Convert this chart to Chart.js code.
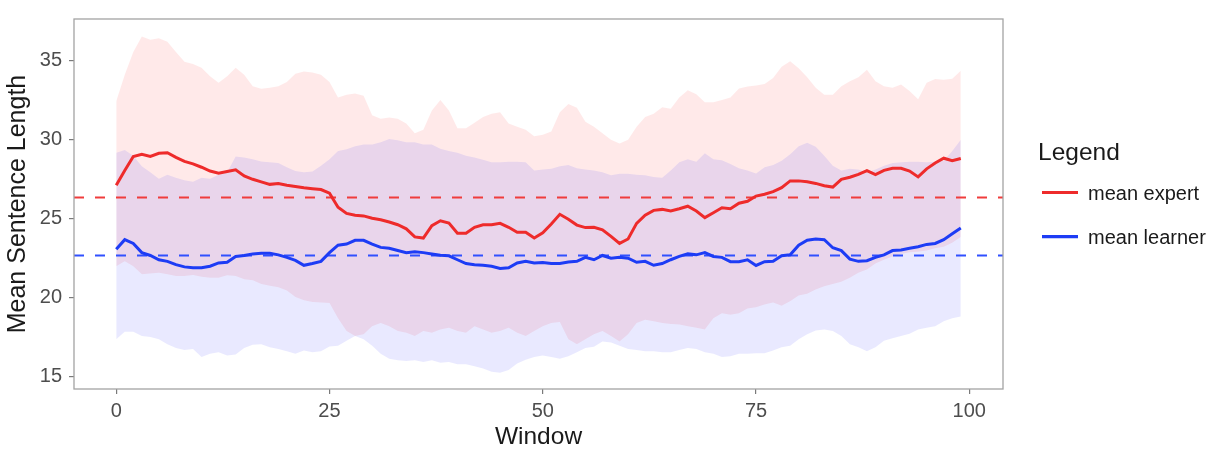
<!DOCTYPE html>
<html>
<head>
<meta charset="utf-8">
<script src="https://cdn.jsdelivr.net/npm/chart.js@4/dist/chart.umd.min.js"></script>
<style>
  html, body { margin: 0; padding: 0; background: #ffffff; }
  #wrap { position: relative; width: 1217px; height: 452px; }
</style>
</head>
<body>
<div id="wrap"><canvas id="c"></canvas></div>
<script>
// ---------- data ----------
const windows = [0,1,2,3,4,5,6,7,8,9,10,11,12,13,14,15,16,17,18,19,20,21,22,23,24,25,26,27,28,29,30,31,32,33,34,35,36,37,38,39,40,41,42,43,44,45,46,47,48,49,50,51,52,53,54,55,56,57,58,59,60,61,62,63,64,65,66,67,68,69,70,71,72,73,74,75,76,77,78,79,80,81,82,83,84,85,86,87,88,89,90,91,92,93,94,95,96,97,98,99];

const expertMean = [27.11,28.04,28.92,29.06,28.92,29.12,29.16,28.86,28.61,28.45,28.24,28.0,27.87,27.97,28.08,27.69,27.48,27.32,27.16,27.22,27.11,27.03,26.95,26.89,26.83,26.6,25.72,25.33,25.21,25.17,25.02,24.92,24.78,24.61,24.35,23.84,23.77,24.55,24.86,24.72,24.08,24.08,24.45,24.61,24.61,24.7,24.45,24.14,24.14,23.77,24.1,24.66,25.27,24.96,24.59,24.43,24.45,24.29,23.88,23.43,23.71,24.7,25.21,25.52,25.58,25.48,25.62,25.78,25.48,25.06,25.37,25.68,25.62,25.97,26.09,26.42,26.54,26.7,26.95,27.38,27.38,27.32,27.22,27.07,26.99,27.48,27.61,27.79,28.02,27.77,28.04,28.18,28.18,28.0,27.63,28.14,28.51,28.81,28.65,28.79];

const expertUpper = [32.4,34.08,35.51,36.5,36.29,36.38,36.17,35.51,34.9,34.76,34.53,33.98,33.57,33.98,34.53,34.08,33.36,33.2,33.26,33.36,33.63,34.14,34.28,34.22,34.08,33.62,32.65,32.81,32.89,32.75,31.52,31.31,31.38,31.31,31.01,30.39,30.6,31.83,32.48,31.83,30.7,30.7,31.05,31.42,31.62,31.72,31.01,30.8,30.6,30.19,30.3,30.5,31.72,32.24,31.99,31.11,30.8,30.39,29.98,29.74,29.98,30.8,31.42,31.62,32.03,31.93,32.65,33.1,32.85,32.34,32.34,32.48,32.65,33.22,33.34,33.4,33.5,33.87,34.59,34.94,34.49,33.92,33.26,32.81,32.81,33.36,33.67,33.92,34.39,33.67,33.36,33.26,33.47,33.06,32.54,33.57,33.81,33.77,33.83,34.33];

const expertLower = [21.99,22.3,21.99,21.48,21.54,21.58,21.48,21.38,21.38,21.44,21.32,21.27,21.27,21.42,21.38,21.17,21.11,20.87,20.76,20.66,20.46,20.05,19.84,19.74,19.7,19.67,18.71,17.9,17.59,17.69,18.2,18.41,18.2,17.9,17.79,17.59,17.9,17.79,18.0,18.1,17.9,17.79,18.2,18.0,17.79,17.9,18.1,17.79,17.59,17.9,18.2,18.41,18.47,17.38,17.07,17.38,17.69,17.9,17.59,17.24,17.69,18.41,18.61,18.51,18.41,18.35,18.31,18.2,18.1,18.0,18.71,19.02,18.92,19.02,19.33,19.4,19.58,19.7,19.5,19.78,20.15,20.25,20.52,20.72,20.87,21.01,21.27,21.58,21.79,22.16,22.4,22.61,22.77,22.87,22.91,22.98,23.12,23.22,23.47,23.84];

const learnerMean = [23.06,23.67,23.43,22.85,22.67,22.4,22.3,22.09,21.95,21.89,21.89,21.99,22.2,22.24,22.61,22.67,22.77,22.81,22.81,22.71,22.55,22.36,22.05,22.16,22.3,22.85,23.32,23.39,23.63,23.63,23.39,23.18,23.12,22.98,22.85,22.91,22.85,22.77,22.69,22.65,22.4,22.16,22.09,22.05,21.99,21.85,21.89,22.2,22.3,22.2,22.22,22.16,22.16,22.26,22.3,22.55,22.4,22.67,22.5,22.55,22.5,22.24,22.3,22.05,22.16,22.4,22.61,22.77,22.71,22.85,22.61,22.55,22.28,22.28,22.4,22.04,22.28,22.3,22.65,22.71,23.32,23.63,23.71,23.67,23.16,22.98,22.44,22.3,22.34,22.55,22.71,22.98,23.02,23.12,23.22,23.37,23.43,23.67,24.04,24.41];

const learnerUpper = [29.16,29.33,28.96,28.3,27.93,27.52,27.77,27.57,27.42,27.32,27.57,27.52,27.77,27.93,28.92,28.86,28.75,28.61,28.55,28.51,28.24,28.0,27.93,27.97,28.34,28.75,29.27,29.37,29.57,29.68,29.68,29.82,30.02,29.94,29.82,29.82,29.68,29.68,29.41,29.27,29.16,28.96,28.86,28.71,28.55,28.55,28.59,28.59,28.55,28.04,28.1,28.14,28.3,28.38,28.18,28.1,28.04,27.93,27.73,27.83,27.83,27.77,27.73,27.63,27.57,28.04,28.55,28.75,28.59,29.12,28.75,28.69,28.45,28.18,28.04,27.85,28.24,28.38,28.65,29.06,29.57,29.78,29.53,28.96,28.34,28.04,28.14,28.1,27.93,28.1,28.34,28.51,28.55,28.59,28.59,28.55,28.59,28.65,29.27,29.98];

const learnerLower = [17.38,17.85,17.85,17.59,17.53,17.38,17.07,16.83,16.71,16.77,16.26,16.46,16.56,16.36,16.42,16.83,17.03,17.07,16.87,16.77,16.63,16.46,16.67,16.56,16.63,16.92,16.97,17.28,17.59,17.38,16.97,16.46,16.15,16.05,16.01,16.05,15.95,16.05,15.89,15.95,15.8,15.8,15.68,15.54,15.33,15.27,15.44,15.85,16.09,16.26,16.36,16.26,16.15,16.3,16.56,16.83,16.91,17.24,17.18,16.97,16.77,16.71,16.63,16.63,16.56,16.56,16.71,16.83,16.77,16.56,16.46,16.26,16.3,16.46,16.46,16.5,16.5,16.67,16.87,16.97,17.38,17.69,17.94,18.0,17.9,17.59,17.07,16.87,16.63,16.87,17.28,17.44,17.59,17.73,18.0,18.1,18.2,18.51,18.71,18.82];

const expertOverall = 26.33;
const learnerOverall = 22.67;

const xTicks = [0, 25, 50, 75, 100];
const yTicks = [15, 20, 25, 30, 35];
const legendLabels = ['mean expert', 'mean learner'];

// ---------- styling ----------
const X_MIN = -4.95, X_MAX = 103.95;
const Y_MIN = 14.24, Y_MAX = 37.6;
const RED = '#ee2b2b';
const BLUE = '#1d3cf5';
const RED_FILL = 'rgba(255,0,0,0.085)';
const BLUE_FILL = 'rgba(0,0,255,0.085)';
const FONT = "'Liberation Sans', Arial, Helvetica, sans-serif";

const pts = ys => windows.map((w, i) => ({ x: w, y: ys[i] }));
const hline = v => [{ x: X_MIN, y: v }, { x: X_MAX, y: v }];

const frame = {
  id: 'frame',
  afterDatasetsDraw(chart) {
    const { ctx, chartArea: a } = chart;
    ctx.save();
    ctx.strokeStyle = '#a3a3a3';
    ctx.lineWidth = 1.3;
    ctx.strokeRect(a.left, a.top, a.right - a.left, a.bottom - a.top);
    ctx.restore();
  }
};

const sideLegend = {
  id: 'sideLegend',
  afterDraw(chart) {
    const { ctx, chartArea: a } = chart;
    const x0 = a.right + 35;
    ctx.save();
    ctx.fillStyle = '#1a1a1a';
    ctx.font = '24.5px ' + FONT;
    ctx.textBaseline = 'alphabetic';
    ctx.fillText('Legend', x0, 160);
    const cols = [RED, BLUE];
    const ys = [192.5, 236.7];
    ctx.font = '20px ' + FONT;
    legendLabels.forEach((lab, i) => {
      ctx.strokeStyle = cols[i];
      ctx.lineWidth = 3.2;
      ctx.beginPath();
      ctx.moveTo(x0 + 4, ys[i]);
      ctx.lineTo(x0 + 40, ys[i]);
      ctx.stroke();
      ctx.fillStyle = '#1a1a1a';
      ctx.fillText(lab, x0 + 50, ys[i] + 7);
    });
    ctx.restore();
  }
};

const ribbon = (data, color, order) => ({
  data: pts(data), borderWidth: 0, borderColor: 'rgba(0,0,0,0)',
  backgroundColor: color, pointRadius: 0, tension: 0, order
});

new Chart(document.getElementById('c'), {
  type: 'line',
  data: {
    datasets: [
      { label: 'mean expert', data: pts(expertMean), borderColor: RED, borderWidth: 3, pointRadius: 0, tension: 0, fill: false, order: 0 },
      { label: 'mean learner', data: pts(learnerMean), borderColor: BLUE, borderWidth: 3, pointRadius: 0, tension: 0, fill: false, order: 1 },
      Object.assign(ribbon(expertUpper, RED_FILL, 5), { fill: '+1' }),
      Object.assign(ribbon(expertLower, RED_FILL, 5), { fill: false }),
      Object.assign(ribbon(learnerUpper, BLUE_FILL, 4), { fill: '+1' }),
      Object.assign(ribbon(learnerLower, BLUE_FILL, 4), { fill: false }),
      { data: hline(expertOverall), borderColor: '#f03c3c', borderWidth: 2, borderDash: [10, 11], pointRadius: 0, fill: false, order: 2 },
      { data: hline(learnerOverall), borderColor: '#3050ff', borderWidth: 2, borderDash: [10, 11], pointRadius: 0, fill: false, order: 2 }
    ]
  },
  options: {
    responsive: true,
    maintainAspectRatio: false,
    animation: false,
    events: [],
    layout: { padding: { left: 0, right: 214, top: 9, bottom: 0 } },
    plugins: { legend: { display: false }, tooltip: { enabled: false } },
    scales: {
      x: {
        type: 'linear', min: X_MIN, max: X_MAX,
        afterBuildTicks: s => { s.ticks = xTicks.map(v => ({ value: v })); },
        afterFit: s => { s.height = 63; },
        grid: { display: true, drawOnChartArea: false, drawTicks: true, tickLength: 5, color: '#7a7a7a', lineWidth: 1.2 },
        border: { display: false },
        ticks: { color: '#4d4d4d', font: { family: FONT, size: 20 }, padding: 5, maxRotation: 0 },
        title: { display: true, text: 'Window', color: '#1a1a1a', font: { family: FONT, size: 24.5 }, padding: { top: 0, bottom: 0 } }
      },
      y: {
        type: 'linear', min: Y_MIN, max: Y_MAX,
        afterBuildTicks: s => { s.ticks = yTicks.map(v => ({ value: v })); },
        afterFit: s => { s.width = 74; },
        grid: { display: true, drawOnChartArea: false, drawTicks: true, tickLength: 5, color: '#7a7a7a', lineWidth: 1.2 },
        border: { display: false },
        ticks: { color: '#4d4d4d', font: { family: FONT, size: 20 }, padding: 7 },
        title: { display: true, text: 'Mean Sentence Length', color: '#1a1a1a', font: { family: FONT, size: 25 }, padding: { top: 3.5, bottom: 0 } }
      }
    }
  },
  plugins: [frame, sideLegend]
});
</script>
</body>
</html>
